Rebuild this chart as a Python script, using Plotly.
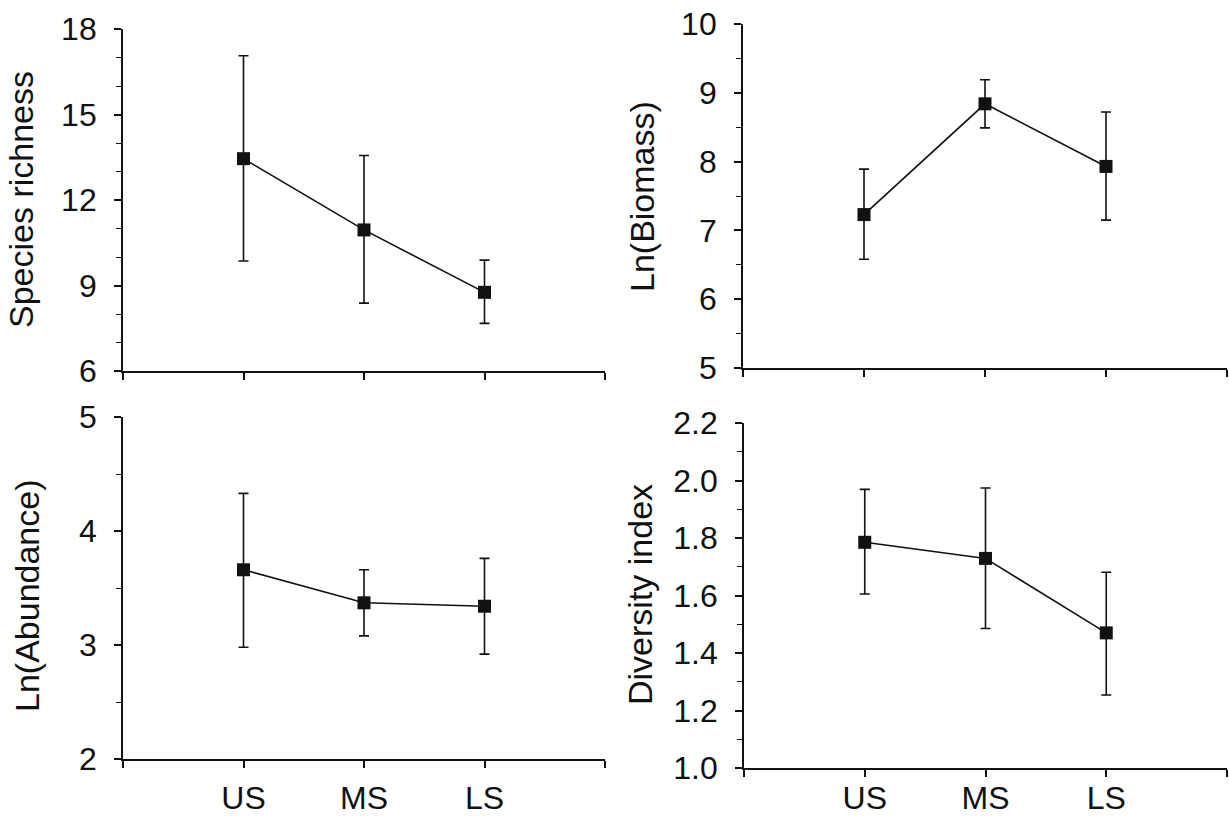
import plotly.graph_objects as go

# ---- data ----
categories = ["US", "MS", "LS"]
cat_pos = [1, 2, 3]

richness_mean = [13.45, 10.95, 8.76]
richness_upper = [17.06, 13.56, 9.89]
richness_lower = [9.86, 8.38, 7.67]

biomass_mean = [7.23, 8.84, 7.93]
biomass_upper = [7.89, 9.19, 8.72]
biomass_lower = [6.58, 8.49, 7.15]

abundance_mean = [3.66, 3.37, 3.34]
abundance_upper = [4.33, 3.66, 3.76]
abundance_lower = [2.98, 3.08, 2.92]

diversity_mean = [1.785, 1.729, 1.47]
diversity_upper = [1.969, 1.974, 1.681]
diversity_lower = [1.605, 1.485, 1.254]

W, H = 1229, 816
FONT = "Liberation Sans, Arial, sans-serif"
INK = "#111111"

panels = [
    dict(mean=richness_mean, up=richness_upper, lo=richness_lower,
         title="Species richness", yr=[6, 18], dtick=3, minor=1, fmt="d",
         xpx=[123, 605], ypx=[29, 371], tpx=(21, 200), labels=False, xso=3),
    dict(mean=biomass_mean, up=biomass_upper, lo=biomass_lower,
         title="Ln(Biomass)", yr=[5, 10], dtick=1, minor=0.5, fmt="d",
         xpx=[743, 1227], ypx=[24, 368], tpx=(642, 197), labels=False, xso=3),
    dict(mean=abundance_mean, up=abundance_upper, lo=abundance_lower,
         title="Ln(Abundance)", yr=[2, 5], dtick=1, minor=0.5, fmt="d",
         xpx=[123, 605], ypx=[417, 759], tpx=(27, 596), labels=True, xso=3),
    dict(mean=diversity_mean, up=diversity_upper, lo=diversity_lower,
         title="Diversity index", yr=[1.0, 2.2], dtick=0.2, minor=0.1, fmt=".1f",
         xpx=[744, 1227], ypx=[423, 768], tpx=(640, 595), labels=True, xso=-6),
]

fig = go.Figure()
annotations = []
for i, p in enumerate(panels, start=1):
    sfx = "" if i == 1 else str(i)
    err_plus = [u - m for u, m in zip(p["up"], p["mean"])]
    err_minus = [m - l for m, l in zip(p["mean"], p["lo"])]
    fig.add_trace(go.Scatter(
        x=cat_pos, y=p["mean"], mode="lines+markers",
        line=dict(color=INK, width=1.6),
        marker=dict(symbol="square", size=13, color=INK),
        error_y=dict(type="data", symmetric=False, array=err_plus,
                     arrayminus=err_minus, color=INK, thickness=1.6, width=5),
        xaxis="x" + sfx, yaxis="y" + sfx, showlegend=False,
        cliponaxis=False,
    ))
    xd = [p["xpx"][0] / W, p["xpx"][1] / W]
    yd = [1 - p["ypx"][1] / H, 1 - p["ypx"][0] / H]
    ticktext = ["", *categories, ""] if p["labels"] else ["", "", "", "", ""]
    fig.update_layout(**{
        "xaxis" + sfx: dict(
            domain=xd, range=[0, 4], anchor="y" + sfx, automargin=False,
            tickvals=[0, *cat_pos, 4], ticktext=ticktext,
            showline=True, linecolor=INK, linewidth=1.8,
            ticks="outside", ticklen=7, tickwidth=1.6, tickcolor=INK,
            showgrid=False, zeroline=False,
            tickfont=dict(family=FONT, size=32, color=INK),
            ticklabelstandoff=p["xso"],
        ),
        "yaxis" + sfx: dict(
            domain=yd, range=p["yr"], anchor="x" + sfx, automargin=False,
            tick0=p["yr"][0], dtick=p["dtick"], tickformat=p["fmt"],
            showline=True, linecolor=INK, linewidth=1.8,
            ticks="outside", ticklen=7, tickwidth=1.6, tickcolor=INK,
            minor=dict(dtick=p["minor"], tick0=p["yr"][0], ticks="outside",
                       ticklen=5, tickwidth=1.3, tickcolor=INK, showgrid=False),
            showgrid=False, zeroline=False,
            tickfont=dict(family=FONT, size=32, color=INK),
            ticklabelstandoff=11,
        ),
    })
    annotations.append(dict(
        text=p["title"], textangle=-90, showarrow=False,
        xref="paper", yref="paper",
        x=p["tpx"][0] / W, y=1 - p["tpx"][1] / H,
        xanchor="center", yanchor="middle",
        font=dict(family=FONT, size=34, color=INK),
    ))

fig.update_layout(
    template="none",
    width=W, height=H, autosize=False,
    margin=dict(l=0, r=0, t=0, b=0, pad=0),
    paper_bgcolor="white", plot_bgcolor="white",
    annotations=annotations,
)

fig.write_html("out.html")
